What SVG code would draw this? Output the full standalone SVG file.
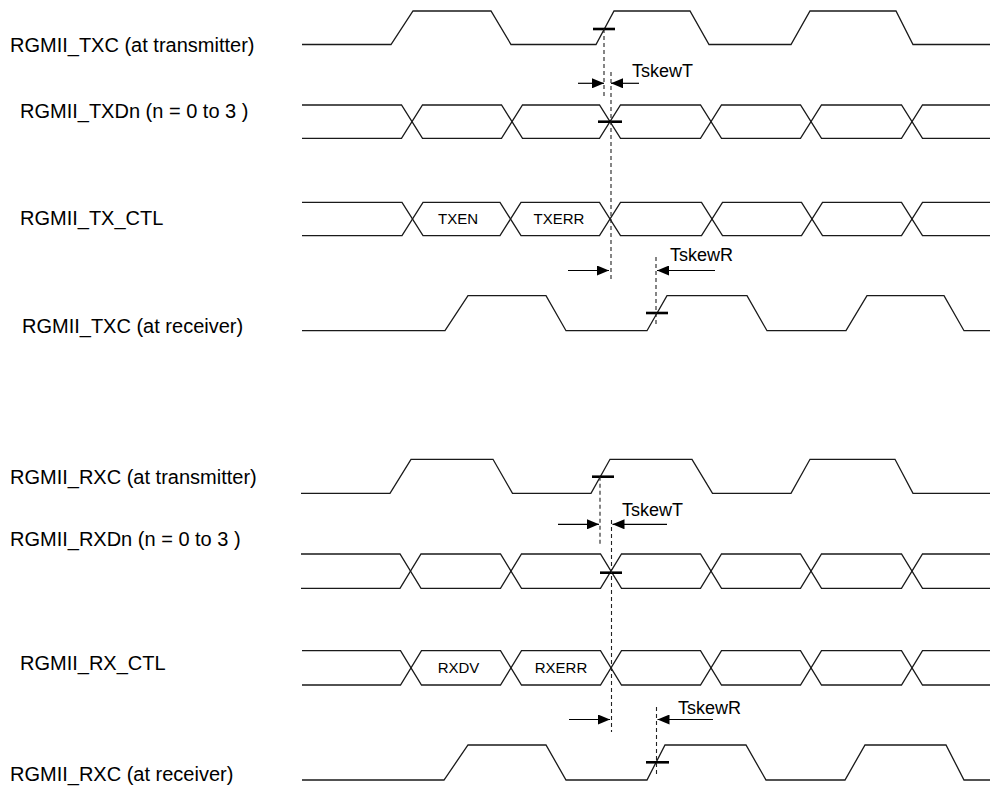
<svg xmlns="http://www.w3.org/2000/svg" width="995" height="788" viewBox="0 0 995 788">
<style>
.sig{fill:none;stroke:#1a1a1a;stroke-width:1.3;stroke-linejoin:miter}
.lbl{font-family:"Liberation Sans",Arial,Helvetica,sans-serif;font-size:20px;fill:#000}
.skew{font-family:"Liberation Sans",Arial,Helvetica,sans-serif;font-size:18px;fill:#000}
.small{font-family:"Liberation Sans",Arial,Helvetica,sans-serif;font-size:15px;fill:#000;text-anchor:middle}
.tick{stroke:#000;stroke-width:2.6;fill:none}
.dash{stroke:#222;stroke-width:1.1;stroke-dasharray:4 3;fill:none}
.arr{stroke:#000;stroke-width:1.2;fill:none;marker-end:url(#ah)}
</style>
<defs>
<marker id="ah" markerUnits="userSpaceOnUse" markerWidth="13" markerHeight="10" refX="12" refY="5" orient="auto">
<path d="M0,0 L12,5 L0,10 z" fill="#000"/>
</marker>
</defs>

<g id="txc_tx">
<text class="lbl" x="10" y="52">RGMII_TXC (at transmitter)</text>
<path class="sig" d="M302,44.5 H391 L413,11 H491 L511,44.5 H596 L614,11 H690 L709,44.5 H791 L810,11 H896 L913,44.5 H990"/>
<line class="tick" x1="593" y1="29" x2="615" y2="29"/>
</g>

<g id="txd">
<text class="lbl" x="20" y="118">RGMII_TXDn (n = 0 to 3 )</text>
<path class="sig" d="M302,105 H401.5 L422.5,138.3 H501.5 L522.5,105 H599.5 L620.5,138.3 H700.5 L721.5,105 H800.5 L821.5,138.3 H901.5 L922.5,105 H990"/>
<path class="sig" d="M302,138.3 H401.5 L422.5,105 H501.5 L522.5,138.3 H599.5 L620.5,105 H700.5 L721.5,138.3 H800.5 L821.5,105 H901.5 L922.5,138.3 H990"/>
<line class="tick" x1="598" y1="121.7" x2="622" y2="121.7"/>
</g>

<g id="tx_ctl">
<text class="lbl" x="20" y="225">RGMII_TX_CTL</text>
<path class="sig" d="M302,202.3 H402 L423,235.7 H500 L521,202.3 H599.5 L620.5,235.7 H701.5 L722.5,202.3 H801.5 L822.5,235.7 H901.5 L922.5,202.3 H990"/>
<path class="sig" d="M302,235.7 H402 L423,202.3 H500 L521,235.7 H599.5 L620.5,202.3 H701.5 L722.5,235.7 H801.5 L822.5,202.3 H901.5 L922.5,235.7 H990"/>
<text class="small" x="458" y="224">TXEN</text>
<text class="small" x="559" y="224">TXERR</text>
</g>

<g id="txc_rx">
<text class="lbl" x="22" y="333">RGMII_TXC (at receiver)</text>
<path class="sig" d="M302,330.7 H445 L468,295.7 H546 L566,330.7 H647 L667,295.7 H747 L767,330.7 H846 L867,295.7 H944 L964,330.7 H990"/>
<line class="tick" x1="646" y1="313" x2="668" y2="313"/>
</g>

<g id="rxc_tx">
<text class="lbl" x="10" y="484">RGMII_RXC (at transmitter)</text>
<path class="sig" d="M301,493.3 H390 L411,459.3 H493 L512.5,493.3 H591 L610,459.3 H692 L712.5,493.3 H791 L810,459.3 H895 L913,493.3 H990"/>
<line class="tick" x1="592" y1="476.7" x2="614" y2="476.7"/>
</g>

<g id="rxd">
<text class="lbl" x="10" y="546">RGMII_RXDn (n = 0 to 3 )</text>
<path class="sig" d="M301,554 H400 L421,588.3 H500.5 L521.5,554 H600.5 L621.5,588.3 H700.5 L721.5,554 H800.5 L821.5,588.3 H901.5 L922.5,554 H990"/>
<path class="sig" d="M301,588.3 H400 L421,554 H500.5 L521.5,588.3 H600.5 L621.5,554 H700.5 L721.5,588.3 H800.5 L821.5,554 H901.5 L922.5,588.3 H990"/>
<line class="tick" x1="600" y1="572.7" x2="622" y2="572.7"/>
</g>

<g id="rx_ctl">
<text class="lbl" x="20" y="670">RGMII_RX_CTL</text>
<path class="sig" d="M302,650.7 H400.5 L421.5,685 H500.5 L521.5,650.7 H600.5 L621.5,685 H700.5 L721.5,650.7 H800.5 L821.5,685 H901.5 L922.5,650.7 H990"/>
<path class="sig" d="M302,685 H400.5 L421.5,650.7 H500.5 L521.5,685 H600.5 L621.5,650.7 H700.5 L721.5,685 H800.5 L821.5,650.7 H901.5 L922.5,685 H990"/>
<text class="small" x="458.5" y="673">RXDV</text>
<text class="small" x="561" y="673">RXERR</text>
</g>

<g id="rxc_rx">
<text class="lbl" x="10" y="781">RGMII_RXC (at receiver)</text>
<path class="sig" d="M302,780 H444 L468,745 H546 L566,780 H647 L665,745 H746 L766,780 H845 L865,745 H946 L964,780 H990"/>
<line class="tick" x1="646" y1="762.3" x2="669" y2="762.3"/>
</g>

<g id="connectors">
<line class="dash" x1="604" y1="29" x2="604" y2="98"/>
<line class="dash" x1="611" y1="72" x2="611" y2="282"/>
<line class="arr" x1="578" y1="83.3" x2="604" y2="83.3"/>
<line class="arr" x1="639" y1="83.3" x2="611" y2="83.3"/>
<text class="skew" x="632" y="77">TskewT</text>
<line class="dash" x1="656" y1="257" x2="656" y2="327"/>
<line class="arr" x1="568" y1="270.5" x2="609" y2="270.5"/>
<line class="arr" x1="715" y1="270.5" x2="657" y2="270.5"/>
<text class="skew" x="670" y="261">TskewR</text>

<line class="dash" x1="600" y1="476.7" x2="600" y2="546.7"/>
<line class="dash" x1="611.5" y1="520" x2="611.5" y2="732"/>
<line class="arr" x1="558" y1="524.3" x2="599" y2="524.3"/>
<line class="arr" x1="667" y1="524.3" x2="612.5" y2="524.3"/>
<text class="skew" x="622" y="516">TskewT</text>
<line class="dash" x1="656.5" y1="707" x2="656.5" y2="775"/>
<line class="arr" x1="569" y1="719.5" x2="610" y2="719.5"/>
<line class="arr" x1="713" y1="719.5" x2="657.5" y2="719.5"/>
<text class="skew" x="678" y="714">TskewR</text>
</g>
</svg>
